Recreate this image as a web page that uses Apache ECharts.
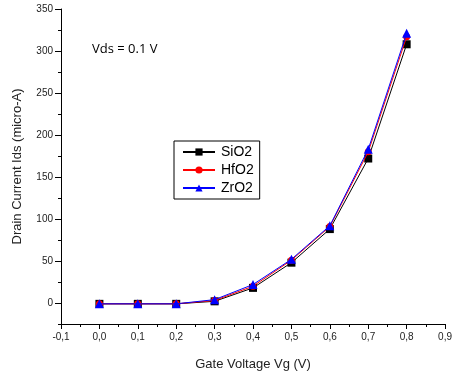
<!DOCTYPE html>
<html><head><meta charset="utf-8">
<script src="https://cdn.jsdelivr.net/npm/echarts@6/dist/echarts.min.js"></script>
<style>html,body{margin:0;padding:0;background:#fff}#c{width:455px;height:376px}</style>
</head><body><div id="c"></div>
<script>
const gateVoltage = [0.0, 0.1, 0.2, 0.3, 0.4, 0.5, 0.6, 0.7, 0.8];
const sio2 = [-1, -1, -1, 2, 18, 48, 88, 172, 308];
const hfo2 = [-1, -1, -1, 3, 20, 51, 91, 180, 317];
const zro2 = [-1, -1, -1, 4, 22, 52, 92, 183, 321];
const yMajorTicks = [0, 50, 100, 150, 200, 250, 300, 350];
const seriesNames = ['SiO2', 'HfO2', 'ZrO2'];

const pairs = v => gateVoltage.map((x, i) => [x, v[i]]);
const chart = echarts.init(document.getElementById('c'));
const font = 'Arial, "Liberation Sans", sans-serif';
const baseY = {
  type: 'value', min: -25, max: 350, interval: 25, position: 'left',
  splitLine: { show: false },
  axisLine: { show: true, onZero: false, lineStyle: { color: '#000', width: 1 } }
};
chart.setOption({
  animation: false,
  grid: { left: 61, right: 5, top: 9, bottom: 52 },
  legend: {
    data: seriesNames,
    orient: 'vertical', left: 174, top: 141,
    itemWidth: 32, itemHeight: 9, itemGap: 4,
    padding: [4, 6, 4, 8],
    borderColor: '#000', borderWidth: 1,
    textStyle: { fontFamily: font, fontSize: 14, color: '#000', padding: [0, 0, 0, 1] }
  },
  graphic: [{
    type: 'text', left: 92, top: 43,
    style: { text: 'Vds = 0.1 V', font: '13px "Open Sans", Arial, sans-serif', fill: '#000' }
  }],
  xAxis: {
    type: 'value', min: -0.1, max: 0.9, interval: 0.1,
    name: 'Gate Voltage Vg (V)', nameLocation: 'middle', nameGap: 34,
    nameTextStyle: { fontFamily: font, fontSize: 13, color: '#222' },
    splitLine: { show: false },
    axisLine: { onZero: false, lineStyle: { color: '#000' } },
    axisTick: { length: 5, lineStyle: { color: '#000' } },
    minorTick: { show: true, splitNumber: 2, length: 3, lineStyle: { color: '#000' } },
    axisLabel: {
      fontFamily: font, fontSize: 10, color: '#222', margin: 8,
      formatter: v => v.toFixed(1).replace('.', ',')
    }
  },
  yAxis: [
    Object.assign({}, baseY, {
      name: 'Drain Current Ids (micro-A)', nameLocation: 'middle', nameGap: 37,
      nameTextStyle: { fontFamily: font, fontSize: 13, color: '#222' },
      axisTick: { length: 3, lineStyle: { color: '#000' } },
      axisLabel: {
        fontFamily: font, fontSize: 10, color: '#222', margin: 8,
        formatter: v => (v >= 0 && v % 50 === 0) ? String(v) : ''
      }
    }),
    Object.assign({}, baseY, {
      axisLine: { show: false, onZero: false },
      axisLabel: { show: false },
      axisTick: { show: true, length: 6, customValues: yMajorTicks, lineStyle: { color: '#000' } }
    })
  ],
  series: [
    { name: 'SiO2', type: 'line', data: pairs(sio2), symbol: 'rect', symbolSize: 8,
      itemStyle: { color: '#000' }, lineStyle: { color: '#000', width: 1 }, z: 2 },
    { name: 'HfO2', type: 'line', data: pairs(hfo2), symbol: 'circle', symbolSize: 7,
      itemStyle: { color: '#ff0000' }, lineStyle: { color: '#ff0000', width: 1 }, z: 3 },
    { name: 'ZrO2', type: 'line', data: pairs(zro2), symbol: 'triangle', symbolSize: 9,
      itemStyle: { color: '#0000ff' }, lineStyle: { color: '#0000ff', width: 1 }, z: 4 }
  ]
});
</script></body></html>
